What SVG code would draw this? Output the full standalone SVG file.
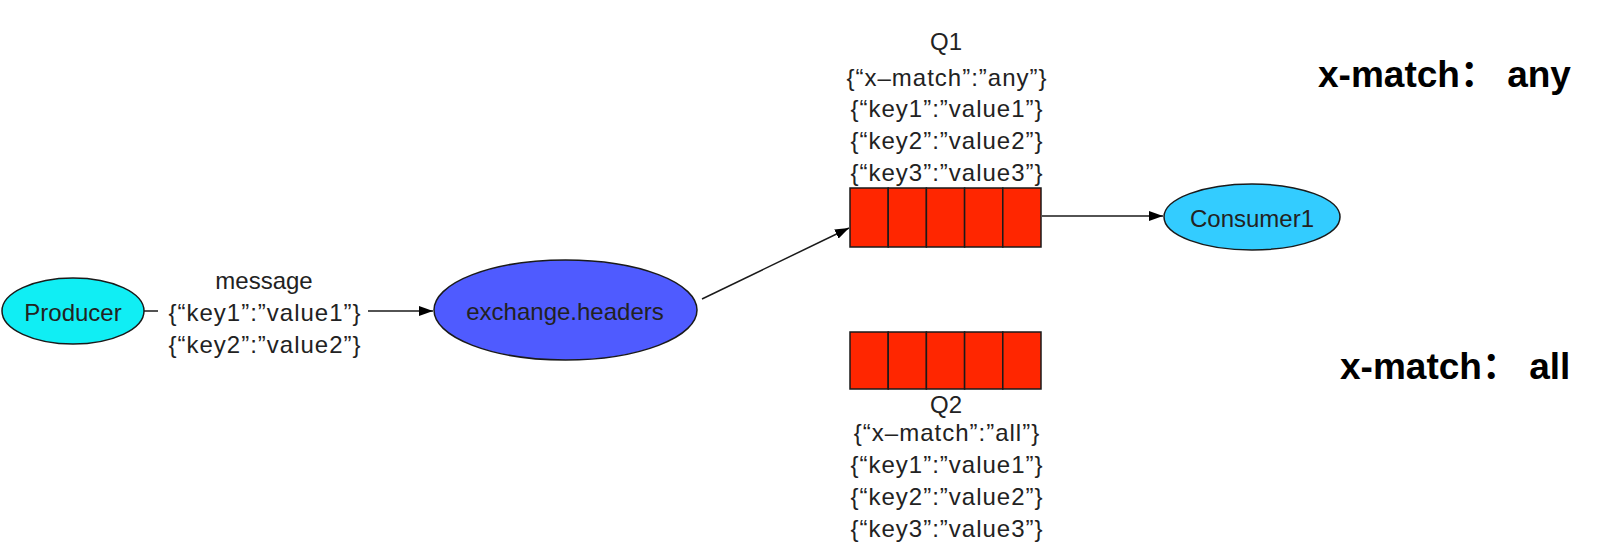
<svg xmlns="http://www.w3.org/2000/svg" width="1610" height="552" viewBox="0 0 1610 552">
<style>
  .lbl { font-family: "Liberation Sans", Arial, "Noto Sans CJK SC", sans-serif; font-size: 24px; fill: #222; text-anchor: middle; dominant-baseline: central; }
  .kv { letter-spacing: 1px; }
  .big { font-family: "Liberation Sans", Arial, "Noto Sans CJK SC", sans-serif; font-size: 37px; font-weight: bold; fill: #000; }
  .node { stroke: #1a1a1a; stroke-width: 1.5; }
  .cell { fill: #FF2600; stroke: #1a1a1a; stroke-width: 1.5; }
  .conn { stroke: #1a1a1a; stroke-width: 1.5; fill: none; }
</style>
<defs>
  <marker id="arr" viewBox="0 0 14 10" refX="14" refY="5" markerWidth="14" markerHeight="10" markerUnits="userSpaceOnUse" orient="auto">
    <path d="M0,0 L14,5 L0,10 Z" fill="#000"/>
  </marker>
</defs>
<rect width="1610" height="552" fill="#fff"/>

<g id="connectors">
  <path class="conn" d="M144,311 H158"/>
  <path class="conn" d="M368,311 H433" marker-end="url(#arr)"/>
  <path class="conn" d="M702,299 L849,228" marker-end="url(#arr)"/>
  <path class="conn" d="M1042,216 H1163" marker-end="url(#arr)"/>
</g>

<g id="message-label">
  <text class="lbl" x="264" y="280">message</text>
  <text class="lbl kv" x="265" y="312">{“key1”:”value1”}</text>
  <text class="lbl kv" x="265" y="344">{“key2”:”value2”}</text>
</g>

<g id="producer">
  <ellipse class="node" cx="73" cy="311" rx="71" ry="33" fill="#10EEF4"/>
  <text class="lbl" x="73" y="312">Producer</text>
</g>

<g id="exchange">
  <ellipse class="node" cx="565.5" cy="310" rx="131.5" ry="50" fill="#4F5BFF"/>
  <text class="lbl" x="565" y="311">exchange.headers</text>
</g>

<g id="q1">
  <text class="lbl" x="946" y="41">Q1</text>
  <text class="lbl kv" x="947" y="77">{“x–match”:”any”}</text>
  <text class="lbl kv" x="947" y="108">{“key1”:”value1”}</text>
  <text class="lbl kv" x="947" y="140">{“key2”:”value2”}</text>
  <text class="lbl kv" x="947" y="172">{“key3”:”value3”}</text>
  <rect class="cell" x="850" y="188" width="38.2" height="59"/>
  <rect class="cell" x="888.2" y="188" width="38.2" height="59"/>
  <rect class="cell" x="926.4" y="188" width="38.2" height="59"/>
  <rect class="cell" x="964.6" y="188" width="38.2" height="59"/>
  <rect class="cell" x="1002.8" y="188" width="38.2" height="59"/>
</g>

<g id="q2">
  <rect class="cell" x="850" y="332" width="38.2" height="57"/>
  <rect class="cell" x="888.2" y="332" width="38.2" height="57"/>
  <rect class="cell" x="926.4" y="332" width="38.2" height="57"/>
  <rect class="cell" x="964.6" y="332" width="38.2" height="57"/>
  <rect class="cell" x="1002.8" y="332" width="38.2" height="57"/>
  <text class="lbl" x="946" y="404">Q2</text>
  <text class="lbl kv" x="947" y="432">{“x–match”:”all”}</text>
  <text class="lbl kv" x="947" y="464">{“key1”:”value1”}</text>
  <text class="lbl kv" x="947" y="496">{“key2”:”value2”}</text>
  <text class="lbl kv" x="947" y="528">{“key3”:”value3”}</text>
</g>

<g id="consumer1">
  <ellipse class="node" cx="1252" cy="217" rx="88" ry="33" fill="#33CCFF"/>
  <text class="lbl" x="1252" y="218">Consumer1</text>
</g>

<g id="labels">
  <text class="big" x="1318" y="87">x-match： any</text>
  <text class="big" x="1340" y="379">x-match：  all</text>
</g>
</svg>
